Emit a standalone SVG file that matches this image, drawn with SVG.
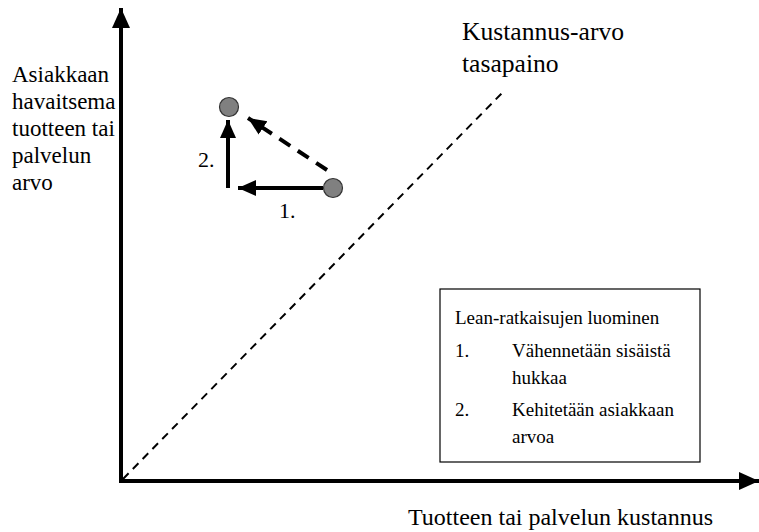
<svg xmlns="http://www.w3.org/2000/svg" width="759" height="532" viewBox="0 0 759 532">
  <style>
    .txt { font-family: "Liberation Serif", "Times New Roman", serif; fill: #000; }
    .axis { stroke: #000; stroke-width: 4; fill: none; }
    .move { stroke: #000; stroke-width: 4; fill: none; }
    .dash { stroke: #000; stroke-width: 2; stroke-dasharray: 8 6; fill: none; }
    .dot { fill: #808080; stroke: #333; stroke-width: 1.2; }
  </style>
  <defs>
    <marker id="head" markerUnits="userSpaceOnUse" viewBox="0 0 20 20" markerWidth="20" markerHeight="20" refX="20" refY="10" orient="auto">
      <path d="M0,1 L20,10 L0,19 Z" fill="#000"/>
    </marker>
    <marker id="headSmall" markerUnits="userSpaceOnUse" viewBox="0 0 18 18" markerWidth="18" markerHeight="18" refX="18" refY="9" orient="auto">
      <path d="M0,1 L18,9 L0,17 Z" fill="#000"/>
    </marker>
  </defs>

  <g id="connectors">
    <!-- axes -->
    <line class="axis" x1="121" y1="483" x2="121" y2="8" marker-end="url(#head)"/>
    <line class="axis" x1="119" y1="481" x2="759" y2="481" marker-end="url(#head)"/>
    <!-- cost-value balance line -->
    <line class="dash" x1="123" y1="479" x2="504" y2="91"/>
    <!-- improvement moves -->
    <line class="move" x1="323" y1="188" x2="238" y2="188" marker-end="url(#headSmall)"/>
    <line class="move" x1="228" y1="188" x2="228" y2="120" marker-end="url(#headSmall)"/>
    <line class="dash" style="stroke-width:4;stroke-dasharray:13 9" x1="327" y1="170" x2="248" y2="118" marker-end="url(#headSmall)"/>
  </g>

  <g id="point-start"><circle class="dot" cx="333" cy="188" r="9.5"/></g>
  <g id="point-end"><circle class="dot" cx="229" cy="107" r="9.5"/></g>

  <g id="label-step1" class="txt"><text x="279" y="218" font-size="22">1.</text></g>
  <g id="label-step2" class="txt"><text x="198" y="167" font-size="22">2.</text></g>

  <g id="y-axis-label" class="txt" font-size="23">
    <text x="12" y="82">Asiakkaan</text>
    <text x="12" y="109">havaitsema</text>
    <text x="12" y="136">tuotteen tai</text>
    <text x="12" y="163">palvelun</text>
    <text x="12" y="190">arvo</text>
  </g>

  <g id="balance-label" class="txt" font-size="25.6">
    <text x="462" y="40">Kustannus-arvo</text>
    <text x="462" y="72">tasapaino</text>
  </g>

  <g id="x-axis-label" class="txt"><text x="408" y="525" font-size="24">Tuotteen tai palvelun kustannus</text></g>

  <g id="legend" class="txt" font-size="19">
    <rect x="440" y="289" width="260" height="173" fill="#fff" stroke="#000" stroke-width="1.2"/>
    <text x="455" y="324">Lean-ratkaisujen luominen</text>
    <text x="455" y="357">1.</text>
    <text x="512" y="357">Vähennetään sisäistä</text>
    <text x="512" y="384">hukkaa</text>
    <text x="455" y="416">2.</text>
    <text x="512" y="416">Kehitetään asiakkaan</text>
    <text x="512" y="443">arvoa</text>
  </g>
</svg>
